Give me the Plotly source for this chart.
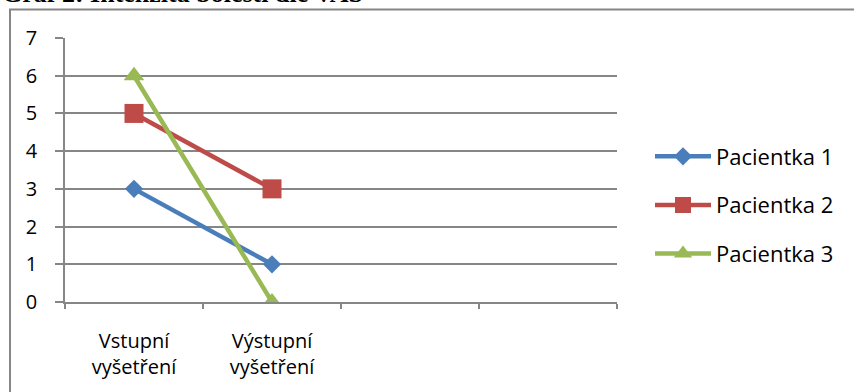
import plotly.graph_objects as go

# Chart data
categories = ["Vstupní<br>vyšetření", "Výstupní<br>vyšetření", " ", "  "]
patient_names = ["Pacientka 1", "Pacientka 2", "Pacientka 3"]
pacientka_1 = [3, 1]
pacientka_2 = [5, 3]
pacientka_3 = [6, 0]
y_ticks = [0, 1, 2, 3, 4, 5, 6, 7]

series = [pacientka_1, pacientka_2, pacientka_3]
colors = ["#4A7EBB", "#BE4B48", "#98B954"]
symbols = ["diamond", "square", "triangle-up"]
marker_sizes = [14, 19, 18]

W, H = 854, 392
L, R, T, B = 65, 617, 38, 302  # plot area in pixels


def px_x(px):
    return (px - L) / (R - L)


def px_y(py):
    return (B - py) / (B - T)


fig = go.Figure()
for name, vals, c, s, ms in zip(patient_names, series, colors, symbols, marker_sizes):
    fig.add_trace(go.Scatter(
        x=categories[:len(vals)], y=vals, name=name, legendgroup=name,
        mode="lines+markers",
        line=dict(color=c, width=4.5),
        marker=dict(symbol=s, size=ms, color=c, line=dict(width=0)),
    ))

axis_font = dict(family="Open Sans, sans-serif", size=20, color="#000000")
legend_font = dict(family="Open Sans, sans-serif", size=22, color="#000000")

fig.update_layout(
    width=W, height=H,
    margin=dict(l=L, r=W - R, t=T, b=H - B),
    paper_bgcolor="white", plot_bgcolor="white",
    showlegend=True,
    legend=dict(
        x=px_x(650), xanchor="left", y=px_y(205), yanchor="middle",
        font=legend_font, tracegroupgap=17, itemwidth=56,
        bgcolor="rgba(0,0,0,0)",
    ),
    xaxis=dict(
        type="category", categoryorder="array", categoryarray=categories,
        range=[-0.5, 3.5], tickson="boundaries", ticks="outside", ticklen=5,
        tickcolor="#868686", tickwidth=1.5, showline=True, linecolor="#868686",
        linewidth=1.5, showgrid=False, tickfont=axis_font, zeroline=False,
        ticklabelstandoff=20,
    ),
    yaxis=dict(
        range=[0, 7], tickvals=y_ticks, ticks="outside", ticklen=8,
        tickcolor="#868686", tickwidth=1.5, showline=True, linecolor="#868686",
        linewidth=1.5, showgrid=True, gridcolor="#868686", gridwidth=1.5,
        tickfont=axis_font, zeroline=False, ticklabelstandoff=14,
    ),
    shapes=[dict(
        type="rect", xref="paper", yref="paper",
        x0=px_x(10), x1=px_x(900), y0=px_y(440), y1=px_y(9.5),
        line=dict(color="#868686", width=2), fillcolor="rgba(0,0,0,0)",
        layer="below",
    )],
    annotations=[dict(
        text="<b>Graf 2: Intenzita bolesti dle VAS</b>",
        xref="paper", yref="paper", x=px_x(0), y=px_y(10),
        xanchor="left", yanchor="bottom", showarrow=False,
        font=dict(family="Liberation Serif, serif", size=26, color="#000000"),
    )],
)

fig.write_html("out.html")
